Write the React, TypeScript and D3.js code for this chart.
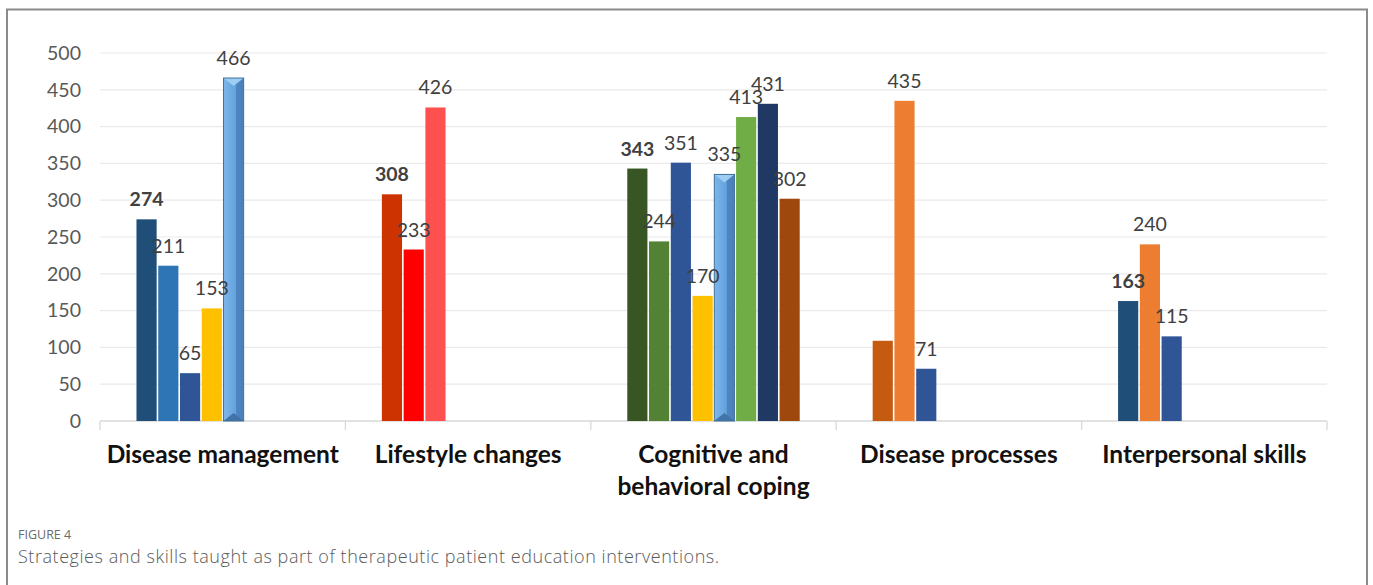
import React from "react";
import * as d3 from "d3";

const categories = [
  "Disease management",
  "Lifestyle changes",
  "Cognitive and behavioral coping",
  "Disease processes",
  "Interpersonal skills",
];
const categoryLines = [
  ["Disease management"],
  ["Lifestyle changes"],
  ["Cognitive and", "behavioral coping"],
  ["Disease processes"],
  ["Interpersonal skills"],
];
const diseaseManagement = [274, 211, 65, 153, 466];
const lifestyleChanges = [308, 233, 426];
const cognitiveCoping = [343, 244, 351, 170, 335, 413, 431, 302];
const diseaseProcesses = [109, 435, 71];
const interpersonalSkills = [163, 240, 115];

const dmColors = ["#1F4E79", "#2E75B6", "#2F5597", "#FFC000", "bevel"];
const lcColors = ["#CC3300", "#FF0000", "#FF5050"];
const ccColors = ["#375623", "#548235", "#2F5597", "#FFC000", "bevel", "#70AD47", "#203864", "#9E480E"];
const dpColors = ["#C55A11", "#ED7D31", "#2F5597"];
const isColors = ["#1F4E79", "#ED7D31", "#2F5597"];

const boldFirst = [true, true, true, false, true];
const showFirstLabel = [true, true, true, false, true];
const yTicks = [0, 50, 100, 150, 200, 250, 300, 350, 400, 450, 500];
const maxSlots = 8;

const groups = [diseaseManagement, lifestyleChanges, cognitiveCoping, diseaseProcesses, interpersonalSkills];
const groupColors = [dmColors, lcColors, ccColors, dpColors, isColors];

const W = 1373;
const H = 585;

export default function App() {
  const x0 = d3.scaleBand<string>().domain(categories).range([100, 1327]).paddingInner(0).paddingOuter(0);
  const x1 = d3
    .scaleBand<number>()
    .domain(d3.range(maxSlots))
    .range([0, x0.bandwidth()])
    .paddingInner(0)
    .paddingOuter(1.64);
  const y = d3.scaleLinear().domain([0, 500]).range([421, 53]);
  const sw = x1.bandwidth();
  const labelFont = "Lato, 'Open Sans', sans-serif";

  const bars = groups.flatMap((vals, gi) =>
    vals.map((v, i) => {
      const bx = x0(categories[gi])! + x1(i)! + 0.8;
      return {
        key: `${gi}-${i}`,
        v,
        bx,
        bw: sw - 1.6,
        top: y(v),
        col: groupColors[gi][i],
        show: i > 0 || showFirstLabel[gi],
        bold: i === 0 && boldFirst[gi],
      };
    })
  );

  return (
    <svg width={W} height={H} style={{ position: "absolute", left: 0, top: 0, background: "#fff" }}>
      <defs>
        <linearGradient id="bevelFace" x1="0" x2="1" y1="0" y2="0">
          <stop offset="0" stopColor="#7DB6EA" />
          <stop offset="0.6" stopColor="#64A2DE" />
          <stop offset="0.62" stopColor="#4E86C2" />
          <stop offset="1" stopColor="#4A80BA" />
        </linearGradient>
      </defs>
      <rect x={0} y={0} width={W} height={H} fill="#fff" />
      {/* frame */}
      <path d={`M7,${H} V9.5 H1367 V${H}`} fill="none" stroke="#8A8A8A" strokeWidth={2} />

      {/* grid */}
      {yTicks.map((t) => (
        <g key={t}>
          {t > 0 && <line x1={100} x2={1327} y1={y(t)} y2={y(t)} stroke="#EAEAEA" strokeWidth={1.2} />}
          <text
            x={81}
            y={y(t)}
            dy="0.35em"
            textAnchor="end"
            fontFamily={labelFont}
            fontSize={19.5}
            fill="#595959"
          >
            {t}
          </text>
        </g>
      ))}
      {/* axis */}
      <line x1={100} x2={1327} y1={y(0)} y2={y(0)} stroke="#D9D9D9" strokeWidth={1.3} />
      {[...categories.map((c) => x0(c)!), 1327].map((bx, i) => (
        <line key={i} x1={bx} x2={bx} y1={y(0)} y2={y(0) + 9} stroke="#D9D9D9" strokeWidth={1.3} />
      ))}

      {/* bars */}
      {bars.map((b) => {
        const h = y(0) - b.top;
        return b.col === "bevel" ? (
          <g key={b.key}>
            <rect x={b.bx} y={b.top} width={b.bw} height={h} fill="url(#bevelFace)" />
            <path d={`M${b.bx},${b.top} L${b.bx + b.bw},${b.top} L${b.bx + b.bw / 2},${b.top + 8} Z`} fill="#9CCEF4" />
            <path d={`M${b.bx},${y(0)} L${b.bx + b.bw},${y(0)} L${b.bx + b.bw / 2},${y(0) - 8} Z`} fill="#4274A8" />
            <rect x={b.bx} y={b.top} width={b.bw} height={h} fill="none" stroke="#41719C" strokeWidth={1} />
          </g>
        ) : (
          <rect key={b.key} x={b.bx} y={b.top} width={b.bw} height={h} fill={b.col} />
        );
      })}

      {/* value labels (on top of bars) */}
      {bars
        .filter((b) => b.show)
        .map((b) => (
          <text
            key={`l${b.key}`}
            x={b.bx + b.bw / 2}
            y={b.top - 13}
            textAnchor="middle"
            fontFamily={labelFont}
            fontSize={19.5}
            fontWeight={b.bold ? 700 : 400}
            fill="#404040"
          >
            {b.v}
          </text>
        ))}

      {/* category labels */}
      {categories.map((c, i) => (
        <text
          key={c}
          x={x0(c)! + x0.bandwidth() / 2}
          y={463}
          textAnchor="middle"
          fontFamily={labelFont}
          fontSize={24.5}
          fontWeight={700}
          fill="#111"
        >
          {categoryLines[i].map((ln, k) => (
            <tspan key={k} x={x0(c)! + x0.bandwidth() / 2} dy={k === 0 ? 0 : 32}>
              {ln}
            </tspan>
          ))}
        </text>
      ))}

      {/* caption */}
      <text x={18} y={539} fontFamily="'Open Sans', sans-serif" fontSize={12.5} fill="#6B6B6B">
        FIGURE 4
      </text>
      <text
        x={18}
        y={562.5}
        fontFamily="'Open Sans', sans-serif"
        fontSize={18}
        fontWeight={300}
        letterSpacing={0.55}
        fill="#5A5A5A"
      >
        Strategies and skills taught as part of therapeutic patient education interventions.
      </text>
    </svg>
  );
}
